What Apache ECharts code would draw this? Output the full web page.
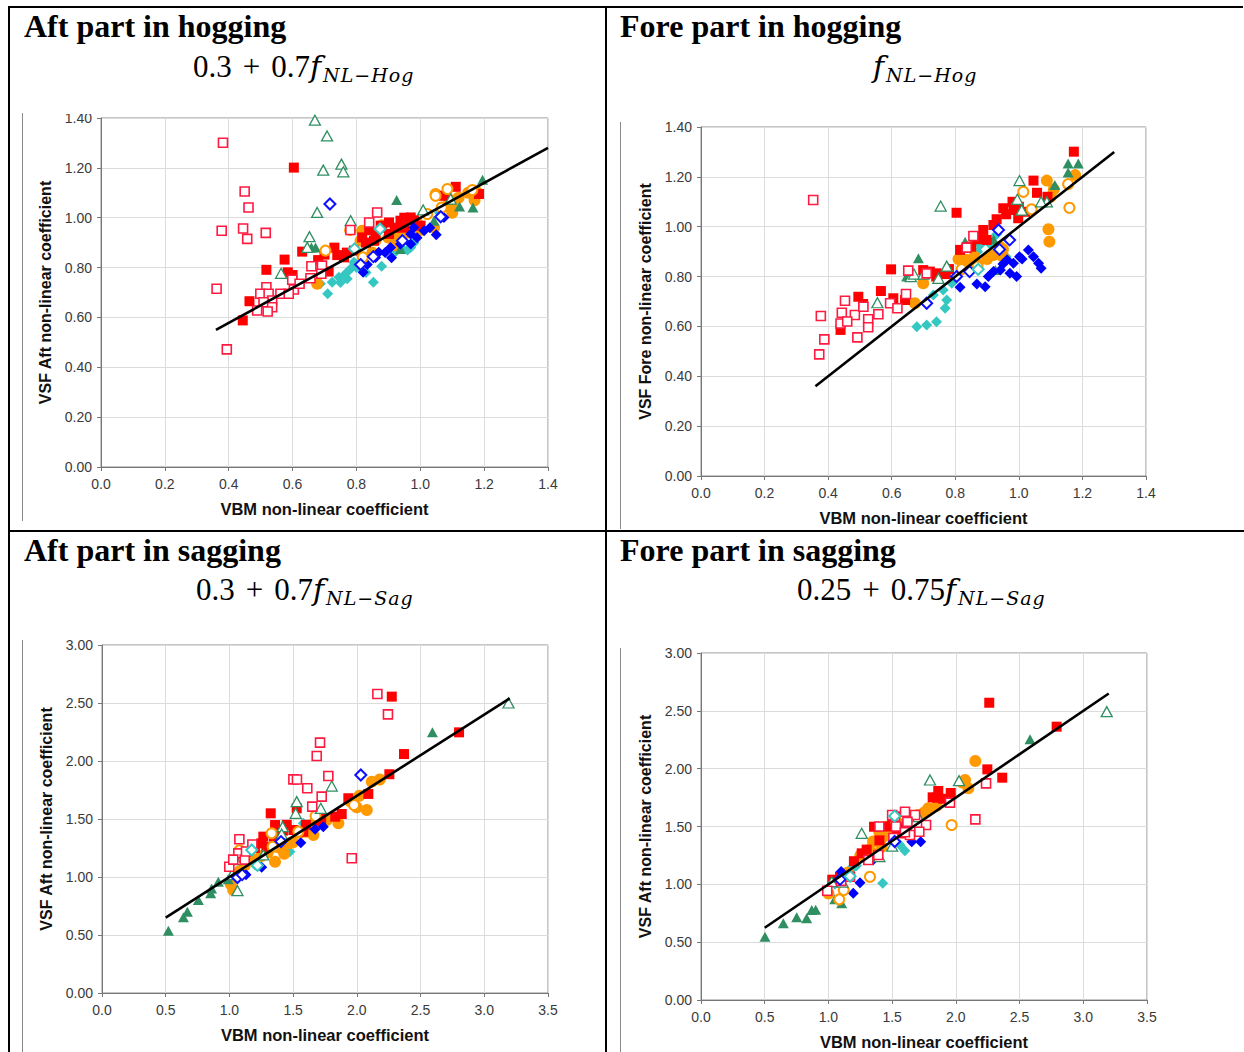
<!DOCTYPE html>
<html>
<head>
<meta charset="utf-8">
<script src="https://cdn.jsdelivr.net/npm/echarts@6.0.0/dist/echarts.min.js"></script>
<style>
  html, body { margin:0; padding:0; background:#fff; }
  body { width:1244px; height:1052px; position:relative; overflow:hidden; }
  .chart { position:absolute; overflow:hidden; }
  #overlay { position:absolute; left:0; top:0; width:1244px; height:1052px; pointer-events:none; }
</style>
</head>
<body>
<div id="cTL" class="chart" style="left:23px;top:114px;width:582px;height:407px;"></div>
<div id="cTR" class="chart" style="left:621px;top:116px;width:619px;height:413px;"></div>
<div id="cBL" class="chart" style="left:23px;top:640px;width:582px;height:412px;"></div>
<div id="cBR" class="chart" style="left:621px;top:642px;width:619px;height:410px;"></div>

<svg id="overlay" xmlns="http://www.w3.org/2000/svg" width="1244" height="1052">
  <!-- table borders -->
  <rect x="8" y="6" width="1235" height="2" fill="#000"/>
  <rect x="8" y="6" width="2" height="1046" fill="#000"/>
  <rect x="605" y="6" width="2" height="1046" fill="#000"/>
  <rect x="8" y="530" width="1236" height="2" fill="#000"/>
  <!-- picture frames -->
  <rect x="22" y="113" width="1" height="408" fill="#8a8a8a"/>
  <rect x="620" y="122" width="1" height="407" fill="#8a8a8a"/>
  <rect x="22" y="640" width="1" height="412" fill="#8a8a8a"/>
  <rect x="620" y="648" width="1" height="404" fill="#8a8a8a"/>
  <!-- cell titles -->
  <g font-family="'Liberation Serif','Times New Roman',serif" font-weight="bold" font-size="32" fill="#000">
    <text x="24" y="37">Aft part in hogging</text>
    <text x="620" y="37">Fore part in hogging</text>
    <text x="24" y="561">Aft part in sagging</text>
    <text x="620" y="561">Fore part in sagging</text>
  </g>
  <!-- formulas -->
  <g font-family="'Liberation Serif','Times New Roman',serif" font-size="31" fill="#000">
    <text x="193" y="77">0.3<tspan dx="11">+</tspan><tspan dx="11">0.7</tspan><tspan font-family="'DejaVu Serif',serif" font-style="italic" font-size="30">f</tspan><tspan font-family="'DejaVu Serif',serif" font-style="italic" font-size="19" letter-spacing="1" dy="5" dx="2">NL−Hog</tspan></text>
    <text x="873" y="77"><tspan font-family="'DejaVu Serif',serif" font-style="italic" font-size="30">f</tspan><tspan font-family="'DejaVu Serif',serif" font-style="italic" font-size="19" letter-spacing="1" dy="5" dx="2">NL−Hog</tspan></text>
    <text x="196" y="600">0.3<tspan dx="11">+</tspan><tspan dx="11">0.7</tspan><tspan font-family="'DejaVu Serif',serif" font-style="italic" font-size="30">f</tspan><tspan font-family="'DejaVu Serif',serif" font-style="italic" font-size="19" letter-spacing="1" dy="5" dx="2">NL−Sag</tspan></text>
    <text x="797" y="600">0.25<tspan dx="11">+</tspan><tspan dx="11">0.75</tspan><tspan font-family="'DejaVu Serif',serif" font-style="italic" font-size="30">f</tspan><tspan font-family="'DejaVu Serif',serif" font-style="italic" font-size="19" letter-spacing="1" dy="5" dx="2">NL−Sag</tspan></text>
  </g>
</svg>

<script>
// ---------------- tick labels ----------------
const hogXTicks = ['0.0','0.2','0.4','0.6','0.8','1.0','1.2','1.4'];
const hogYTicks = ['0.00','0.20','0.40','0.60','0.80','1.00','1.20','1.40'];
const sagXTicks = ['0.0','0.5','1.0','1.5','2.0','2.5','3.0','3.5'];
const sagYTicks = ['0.00','0.50','1.00','1.50','2.00','2.50','3.00'];

// ---------------- Aft part in hogging ----------------
const ahRedFilled = [[0.604,1.201],[0.444,0.588],[0.465,0.665],[0.518,0.791],[0.575,0.832],[0.585,0.781],[0.630,0.864],[0.700,0.852],[0.731,0.880],[0.761,0.841],[0.818,0.921],[0.876,0.968],[0.902,0.981],[0.938,0.988],[0.970,1.001],[1.001,0.968],[0.902,0.935],[0.855,0.908],[1.111,1.124],[1.074,1.088],[1.184,1.095],[0.713,0.784],[0.792,0.868],[0.840,0.950],[0.950,0.960],[0.600,0.770],[0.770,0.860],[0.860,0.930],[0.880,0.960],[0.920,0.960],[0.950,1.000],[0.980,0.990],[0.830,0.900],[0.740,0.850],[0.680,0.830]];
const ahRedOpen = [[0.382,1.301],[0.450,1.105],[0.462,1.041],[0.378,0.948],[0.445,0.957],[0.458,0.915],[0.516,0.939],[0.362,0.715],[0.394,0.472],[0.865,1.021],[0.840,0.981],[0.781,0.951],[0.659,0.805],[0.692,0.808],[0.690,0.775],[0.656,0.757],[0.599,0.751],[0.604,0.712],[0.562,0.695],[0.588,0.695],[0.518,0.721],[0.499,0.695],[0.525,0.695],[0.536,0.668],[0.509,0.661],[0.536,0.641],[0.489,0.628],[0.522,0.624],[0.622,0.735]];
const ahGreenFilled = [[1.195,1.152],[0.926,1.071],[1.165,1.041],[1.123,1.045],[0.659,0.881],[0.672,0.881],[0.938,0.875],[0.949,0.988],[1.043,0.988]];
const ahGreenOpen = [[0.670,1.391],[0.708,1.328],[0.696,1.191],[0.753,1.215],[0.759,1.184],[0.677,1.021],[0.653,0.924],[0.564,0.777],[0.782,0.988],[1.009,1.031],[1.095,1.075],[0.646,0.881]];
const ahOrangeFilled = [[0.677,0.735],[0.813,0.908],[0.818,0.948],[0.880,0.970],[0.918,0.935],[0.944,0.961],[0.940,0.920],[1.043,0.961],[1.085,1.081],[1.095,1.041],[1.100,1.020],[1.179,1.101],[1.048,1.095],[0.780,0.950],[0.850,0.860],[0.990,0.980],[1.150,1.100],[0.860,0.910],[0.900,0.920],[0.960,0.940],[1.000,0.950],[1.120,1.080],[1.170,1.070],[1.100,1.060],[0.920,0.890]];
const ahOrangeOpen = [[0.703,0.868],[0.820,0.841],[1.022,1.015],[1.085,1.115],[1.163,1.111],[1.048,1.088],[1.067,1.041]];
const ahBlueFilled = [[0.821,0.781],[0.834,0.812],[0.870,0.861],[0.910,0.839],[0.907,0.881],[0.938,0.895],[0.970,0.935],[0.980,0.961],[1.012,0.948],[1.050,0.932],[1.074,1.001],[0.970,0.895],[0.860,0.840],[0.890,0.860],[0.990,0.920],[1.030,0.960]];
const ahBlueOpen = [[0.717,1.055],[0.813,0.812],[0.853,0.844],[0.944,0.908],[1.064,1.004]];
const ahCyanFilled = [[0.710,0.695],[0.853,0.741],[0.879,0.805],[0.687,0.735],[0.724,0.741],[0.745,0.761],[0.766,0.775],[0.782,0.795],[0.792,0.821],[0.771,0.755],[0.970,0.881],[0.940,0.880],[1.060,1.020],[1.100,1.040],[0.750,0.740],[0.800,0.800],[0.830,0.780],[0.920,0.860],[0.960,0.870],[0.980,0.900]];
const ahCyanOpen = [[0.874,0.955],[0.794,0.875]];
const ahLine = [[0.36,0.55],[1.40,1.28]];

// ---------------- Fore part in hogging ----------------
const fhRedFilled = [[1.173,1.301],[1.046,1.185],[0.804,1.056],[1.057,1.136],[1.090,1.120],[0.951,1.074],[0.983,1.067],[0.998,1.034],[0.920,1.007],[0.888,0.987],[0.899,0.947],[0.870,0.950],[0.815,0.907],[0.598,0.829],[0.699,0.826],[0.741,0.813],[0.770,0.810],[0.780,0.830],[0.566,0.742],[0.495,0.719],[0.605,0.713],[0.642,0.706],[0.439,0.586],[0.510,0.690],[0.980,1.100],[0.930,1.030],[0.960,1.050],[1.000,1.080],[1.020,1.060],[0.860,0.960],[0.850,0.920],[0.740,0.800],[0.720,0.820]];
const fhRedOpen = [[0.353,1.107],[0.377,0.642],[0.388,0.548],[0.372,0.488],[0.453,0.703],[0.443,0.655],[0.439,0.612],[0.492,0.556],[0.484,0.646],[0.511,0.679],[0.526,0.629],[0.526,0.597],[0.558,0.649],[0.595,0.693],[0.618,0.673],[0.645,0.730],[0.652,0.824],[0.710,0.813],[0.857,0.963],[0.836,0.916],[0.460,0.620]];
const fhGreenFilled = [[1.155,1.254],[1.187,1.254],[1.155,1.217],[1.113,1.167],[0.684,0.873],[0.831,0.940],[0.926,0.826],[0.647,0.800],[0.920,0.950]];
const fhGreenOpen = [[0.754,1.083],[1.002,1.185],[0.995,1.110],[1.009,1.067],[1.088,1.100],[1.070,1.100],[0.555,0.695],[0.773,0.842],[0.747,0.793],[0.660,0.800],[0.670,0.810],[0.700,0.810]];
const fhOrangeFilled = [[1.088,1.185],[1.093,0.990],[1.096,0.940],[1.177,1.207],[1.100,1.120],[0.836,0.866],[0.870,0.850],[0.810,0.870],[0.699,0.773],[0.673,0.693],[0.920,0.886],[0.940,0.920],[0.950,0.880],[0.860,0.880],[0.900,0.870],[0.950,0.910],[0.850,0.840],[1.110,1.150]];
const fhOrangeOpen = [[1.014,1.140],[1.159,1.076],[1.155,1.171],[1.040,1.070],[0.820,0.830],[0.870,0.840]];
const fhBlueFilled = [[1.030,0.907],[1.046,0.880],[1.062,0.853],[1.070,0.833],[1.002,0.880],[0.983,0.853],[0.972,0.813],[0.993,0.800],[0.942,0.826],[0.904,0.800],[0.894,0.759],[0.868,0.770],[0.815,0.757],[0.963,0.867],[0.920,0.820],[0.950,0.850],[1.010,0.870]];
const fhBlueOpen = [[0.936,0.987],[0.971,0.947],[0.939,0.909],[0.845,0.820],[0.804,0.800],[0.710,0.693]];
const fhCyanFilled = [[0.679,0.599],[0.710,0.606],[0.741,0.619],[0.768,0.673],[0.773,0.706],[0.731,0.726],[0.762,0.746],[0.789,0.773],[0.878,0.927],[0.930,0.970],[0.960,0.880],[0.800,0.790],[0.850,0.840],[0.870,0.900],[0.910,0.930],[0.950,0.900]];
const fhCyanOpen = [[0.872,0.829]];
const fhLine = [[0.36,0.36],[1.30,1.30]];

// ---------------- Aft part in sagging ----------------
const asRedFilled = [[2.274,2.555],[2.802,2.247],[2.370,2.060],[2.255,1.886],[1.933,1.679],[2.090,1.716],[1.881,1.543],[1.830,1.520],[1.324,1.549],[1.358,1.448],[1.528,1.592],[1.502,1.405],[1.580,1.390],[1.266,1.348],[1.250,1.290],[1.290,1.260],[1.720,1.500],[1.420,1.400],[1.450,1.450],[1.350,1.350],[1.600,1.450],[1.700,1.480],[1.200,1.250]];
const asRedOpen = [[2.161,2.578],[2.244,2.402],[1.711,2.158],[1.685,2.043],[1.502,1.842],[1.530,1.840],[1.776,1.871],[1.611,1.765],[1.724,1.693],[1.650,1.607],[1.960,1.161],[1.078,1.325],[1.070,1.204],[0.999,1.089],[1.120,1.150],[1.030,1.150],[1.180,1.280],[1.130,1.220]];
const asGreenFilled = [[2.593,2.247],[0.521,0.537],[0.639,0.652],[0.670,0.700],[0.756,0.802],[0.853,0.860],[0.913,0.960],[0.860,0.900],[0.990,0.980]];
const asGreenOpen = [[3.190,2.500],[1.803,1.784],[1.528,1.650],[1.520,1.549],[1.717,1.592],[1.418,1.434],[1.410,1.370],[1.266,1.190],[1.063,0.882],[1.050,1.150],[1.020,1.020]];
const asOrangeFilled = [[2.117,1.822],[2.180,1.840],[2.078,1.578],[2.000,1.600],[1.855,1.463],[1.764,1.491],[1.659,1.362],[1.600,1.390],[1.371,1.261],[1.358,1.132],[1.430,1.200],[1.470,1.290],[1.030,0.888],[1.010,0.940],[1.200,1.150],[1.250,1.180],[1.300,1.210],[1.400,1.250],[1.500,1.300],[1.550,1.380],[1.120,1.100],[1.080,1.050],[1.650,1.450],[1.950,1.650],[2.020,1.700]];
const asOrangeOpen = [[1.978,1.621],[1.676,1.526],[1.541,1.391],[1.331,1.377],[1.339,1.261],[1.080,1.230],[1.090,1.160]];
const asBlueFilled = [[1.560,1.296],[1.672,1.411],[1.737,1.434],[1.253,1.084],[1.130,1.020]];
const asBlueOpen = [[2.031,1.879],[1.405,1.305],[1.063,0.996],[1.100,1.020]];
const asCyanFilled = [[1.580,1.463],[1.475,1.218],[1.150,1.220],[1.201,1.103],[1.110,1.040],[1.240,1.180],[1.350,1.300],[1.400,1.330],[1.300,1.250]];
const asCyanOpen = [[1.175,1.233],[1.220,1.100]];
const asLine = [[0.50,0.65],[3.20,2.54]];

// ---------------- Fore part in sagging ----------------
const fsRedFilled = [[2.262,2.570],[2.791,2.363],[2.364,1.922],[2.247,1.994],[1.358,1.498],[1.862,1.807],[1.818,1.752],[1.900,1.740],[1.960,1.790],[1.614,1.498],[1.536,1.470],[1.470,1.500],[1.261,1.268],[1.580,1.440],[1.091,1.066],[1.030,1.040],[1.500,1.550],[1.550,1.520],[1.400,1.380],[1.300,1.300],[1.200,1.200],[1.950,1.720],[1.850,1.750]];
const fsRedOpen = [[2.237,1.873],[2.153,1.562],[1.954,1.706],[1.601,1.628],[1.680,1.599],[1.766,1.513],[1.713,1.455],[1.640,1.427],[1.522,1.585],[1.620,1.540],[1.530,1.500],[1.391,1.254],[1.313,1.210],[1.169,1.066],[0.991,0.945],[1.100,1.030],[1.510,1.400],[1.500,1.600],[1.600,1.450],[1.400,1.500]];
const fsGreenFilled = [[2.582,2.254],[0.502,0.547],[0.646,0.663],[0.751,0.715],[0.829,0.706],[0.869,0.778],[0.900,0.780],[1.104,0.836],[1.050,0.870]];
const fsGreenOpen = [[3.184,2.493],[1.797,1.902],[2.025,1.896],[1.261,1.441],[1.705,1.585],[1.400,1.240],[1.500,1.330],[1.026,1.023],[1.110,1.020]];
const fsOrangeFilled = [[2.153,2.066],[2.072,1.902],[2.098,1.830],[1.784,1.657],[1.850,1.680],[1.457,1.498],[1.431,1.412],[1.418,1.325],[1.320,1.300],[1.000,0.920],[1.350,1.370],[1.400,1.450],[1.500,1.450],[1.600,1.500],[1.700,1.600],[1.750,1.620],[1.250,1.250],[1.150,1.100],[2.050,1.880]];
const fsOrangeOpen = [[1.967,1.513],[1.326,1.066],[1.085,0.870],[1.120,0.950],[1.530,1.550]];
const fsBlueFilled = [[1.654,1.369],[1.724,1.369],[1.248,1.014],[1.195,0.922],[1.350,1.210],[1.100,1.110]];
const fsBlueOpen = [[1.091,1.043],[1.520,1.370]];
const fsCyanFilled = [[1.426,1.009],[1.562,1.340],[1.470,1.470],[1.220,1.160],[1.160,1.120],[1.600,1.290],[1.300,1.250],[1.400,1.300],[1.200,1.150],[1.050,1.000]];
const fsCyanOpen = [[1.170,1.070],[1.520,1.590]];
const fsLine = [[0.50,0.625],[3.20,2.65]];

// ---------------- styles ----------------
const FONT = "'Liberation Sans', Arial, sans-serif";
const ST = {
  cyanFilled:   { symbol:'diamond',  size:11, fill:'#35c7c2' },
  orangeFilled: { symbol:'circle',   size:12, fill:'#ff9900' },
  greenFilled:  { symbol:'triangle', size:[11,10], fill:'#2f8f62' },
  redFilled:    { symbol:'rect',     size:10, fill:'#ff0000' },
  blueFilled:   { symbol:'diamond',  size:11, fill:'#0000ff' },
  orangeOpen:   { symbol:'circle',   size:10, fill:'#ffffff', border:'#ff9900', bw:2 },
  greenOpen:    { symbol:'triangle', size:[11,10], fill:'#ffffff', border:'#2f8f62', bw:1.3 },
  redOpen:      { symbol:'rect',     size:9,  fill:'#ffffff', border:'#ff1a40', bw:1.6 },
  blueOpen:     { symbol:'diamond',  size:11, fill:'#ffffff', border:'#1010ff', bw:2 },
  cyanOpen:     { symbol:'diamond',  size:11, fill:'#ffffff', border:'#35c7c2', bw:2 }
};

function scatter(data, st) {
  return {
    type:'scatter', data: data, symbol: st.symbol, symbolSize: st.size, silent:true,
    itemStyle: { color: st.fill, borderColor: st.border || st.fill, borderWidth: st.bw || 0, opacity:1 }
  };
}

function build(el, cfg) {
  const chart = echarts.init(document.getElementById(el), null, { renderer:'svg' });
  const axisCommon = {
    type:'value', nameLocation:'middle',
    nameTextStyle:{ fontFamily:FONT, fontWeight:'bold', fontSize:16, color:'#111' },
    axisLine:{ show:true, onZero:false, lineStyle:{ color:'#777', width:1 } },
    axisTick:{ show:true, length:4, lineStyle:{ color:'#777' } },
    splitLine:{ show:true, lineStyle:{ color:'#dcdcdc', width:1 } }
  };
  const s = cfg.sets;
  chart.setOption({
    animation:false,
    grid:{ left:cfg.grid[0], top:cfg.grid[1], width:cfg.grid[2], height:cfg.grid[3],
           show:true, borderColor:'#8c8c8c', borderWidth:1, backgroundColor:'transparent',
           containLabel:false, outerBoundsMode:'none' },
    xAxis: Object.assign({}, axisCommon, {
      min:0, max:cfg.xMax, interval:cfg.xStep, name:'VBM non-linear coefficient', nameGap:33,
      nameTextStyle:{ fontFamily:FONT, fontWeight:'bold', fontSize:16.5, color:'#111' },
      axisLabel:{ margin:10, fontSize:14, color:'#3a3a3a', fontFamily:FONT,
                  formatter:(v) => cfg.xTicks[Math.round(v / cfg.xStep)] }
    }),
    yAxis: Object.assign({}, axisCommon, {
      min:0, max:cfg.yMax, interval:cfg.yStep, name:cfg.yName, nameGap:cfg.yGap, nameRotate:90,
      axisLabel:{ margin:9, fontSize:14, color:'#3a3a3a', fontFamily:FONT,
                  formatter:(v) => cfg.yTicks[Math.round(v / cfg.yStep)] }
    }),
    series: [
      scatter(s.cyanFilled, ST.cyanFilled),
      scatter(s.orangeFilled, ST.orangeFilled),
      scatter(s.greenFilled, ST.greenFilled),
      scatter(s.redFilled, ST.redFilled),
      scatter(s.blueFilled, ST.blueFilled),
      scatter(s.orangeOpen, ST.orangeOpen),
      scatter(s.greenOpen, ST.greenOpen),
      scatter(s.redOpen, ST.redOpen),
      scatter(s.blueOpen, ST.blueOpen),
      scatter(s.cyanOpen, ST.cyanOpen),
      { type:'line', data: cfg.line, symbol:'none', silent:true, z:5,
        lineStyle:{ color:'#000', width:2.6 } }
    ]
  });
}

build('cTL', {
  grid:[78,4,447,349], xMax:1.4, xStep:0.2, yMax:1.4, yStep:0.2,
  xTicks:hogXTicks, yTicks:hogYTicks, yName:'VSF Aft non-linear coefficient', yGap:45, line:ahLine,
  sets:{ redFilled:ahRedFilled, redOpen:ahRedOpen, greenFilled:ahGreenFilled, greenOpen:ahGreenOpen,
         orangeFilled:ahOrangeFilled, orangeOpen:ahOrangeOpen, blueFilled:ahBlueFilled, blueOpen:ahBlueOpen,
         cyanFilled:ahCyanFilled, cyanOpen:ahCyanOpen }
});
build('cTR', {
  grid:[80,11,445,349], xMax:1.4, xStep:0.2, yMax:1.4, yStep:0.2,
  xTicks:hogXTicks, yTicks:hogYTicks, yName:'VSF Fore non-linear coefficient', yGap:47, line:fhLine,
  sets:{ redFilled:fhRedFilled, redOpen:fhRedOpen, greenFilled:fhGreenFilled, greenOpen:fhGreenOpen,
         orangeFilled:fhOrangeFilled, orangeOpen:fhOrangeOpen, blueFilled:fhBlueFilled, blueOpen:fhBlueOpen,
         cyanFilled:fhCyanFilled, cyanOpen:fhCyanOpen }
});
build('cBL', {
  grid:[79,5,446,348], xMax:3.5, xStep:0.5, yMax:3.0, yStep:0.5,
  xTicks:sagXTicks, yTicks:sagYTicks, yName:'VSF Aft non-linear coefficient', yGap:45, line:asLine,
  sets:{ redFilled:asRedFilled, redOpen:asRedOpen, greenFilled:asGreenFilled, greenOpen:asGreenOpen,
         orangeFilled:asOrangeFilled, orangeOpen:asOrangeOpen, blueFilled:asBlueFilled, blueOpen:asBlueOpen,
         cyanFilled:asCyanFilled, cyanOpen:asCyanOpen }
});
build('cBR', {
  grid:[80,11,446,347], xMax:3.5, xStep:0.5, yMax:3.0, yStep:0.5,
  xTicks:sagXTicks, yTicks:sagYTicks, yName:'VSF Aft non-linear coefficient', yGap:47, line:fsLine,
  sets:{ redFilled:fsRedFilled, redOpen:fsRedOpen, greenFilled:fsGreenFilled, greenOpen:fsGreenOpen,
         orangeFilled:fsOrangeFilled, orangeOpen:fsOrangeOpen, blueFilled:fsBlueFilled, blueOpen:fsBlueOpen,
         cyanFilled:fsCyanFilled, cyanOpen:fsCyanOpen }
});
</script>
</body>
</html>
